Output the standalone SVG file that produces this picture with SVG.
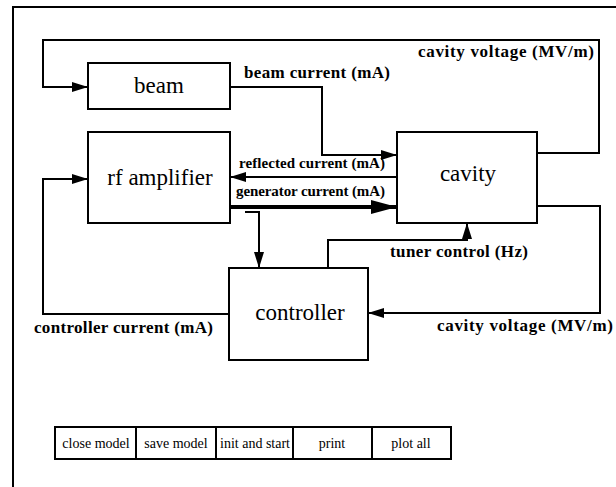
<svg xmlns="http://www.w3.org/2000/svg" width="616" height="487" viewBox="0 0 616 487">
<style>
.box{fill:#fff;stroke:#000;stroke-width:2}
.ln{fill:none;stroke:#000;stroke-width:2}
.thick{fill:none;stroke:#000;stroke-width:4}
.node{font-family:"Liberation Serif","Times New Roman",serif;font-size:23px;fill:#000;text-anchor:middle}
.lbl{font-family:"Liberation Serif","Times New Roman",serif;font-size:17px;font-weight:bold;fill:#000}
.sm{font-family:"Liberation Serif","Times New Roman",serif;font-size:15px;font-weight:bold;fill:#000}
.btn{font-family:"Liberation Serif","Times New Roman",serif;font-size:14px;fill:#000;text-anchor:middle}
</style>
<defs>
<marker id="ah" markerUnits="userSpaceOnUse" markerWidth="16" markerHeight="10" refX="16" refY="5" orient="auto">
<path d="M0,0 L16,5 L0,10 z" fill="#000"/>
</marker>
<marker id="ahb" markerUnits="userSpaceOnUse" markerWidth="26" markerHeight="14" refX="26" refY="7" orient="auto">
<path d="M0,0 L26,7 L0,14 z" fill="#000"/>
</marker>
</defs>
<rect width="616" height="487" fill="#fff"/>
<path class="ln" d="M13,487 V7 H616"/>
<g id="connectors">
<path class="ln" d="M537,153 H599 V40 H43 V87 H88" marker-end="url(#ah)"/>
<path class="ln" d="M230,87 H322 V155 H397" marker-end="url(#ah)"/>
<path class="ln" d="M397,177 H230" marker-end="url(#ah)"/>
<path class="thick" d="M230,207 H397" marker-end="url(#ahb)"/>
<path class="ln" d="M245,212 H259 V268" marker-end="url(#ah)"/>
<path class="ln" d="M328,268 V240 H467 V223" marker-end="url(#ah)"/>
<path class="ln" d="M537,206 H600 V313 H368" marker-end="url(#ah)"/>
<path class="ln" d="M229,314 H43 V179 H88" marker-end="url(#ah)"/>
<text class="lbl" x="418" y="57" textLength="176" lengthAdjust="spacing">cavity voltage (MV/m)</text>
<text class="lbl" x="244" y="78" textLength="146" lengthAdjust="spacing">beam current (mA)</text>
<text class="sm" x="239" y="168" textLength="146" lengthAdjust="spacing">reflected current (mA)</text>
<text class="sm" x="236" y="196" textLength="149" lengthAdjust="spacing">generator current (mA)</text>
<text class="lbl" x="390" y="257" textLength="138" lengthAdjust="spacing">tuner control (Hz)</text>
<text class="lbl" x="437" y="331" textLength="176" lengthAdjust="spacing">cavity voltage (MV/m)</text>
<text class="lbl" x="34" y="333" textLength="179" lengthAdjust="spacing">controller current (mA)</text>
</g>
<g id="beam"><rect class="box" x="88" y="63" width="142" height="46"/><text class="node" x="159" y="93">beam</text></g>
<g id="rf-amplifier"><rect class="box" x="88" y="132" width="142" height="91"/><text class="node" x="160" y="185">rf amplifier</text></g>
<g id="cavity"><rect class="box" x="397" y="132" width="140" height="91"/><text class="node" x="468" y="181">cavity</text></g>
<g id="controller"><rect class="box" x="229" y="268" width="139" height="92"/><text class="node" x="300" y="320">controller</text></g>
<g id="buttons">
<rect class="box" x="55" y="427" width="396" height="32"/>
<path class="ln" d="M136,427 V459 M216,427 V459 M293,427 V459 M372,427 V459"/>
<text class="btn" x="96" y="448">close model</text>
<text class="btn" x="176" y="448">save model</text>
<text class="btn" x="255" y="448">init and start</text>
<text class="btn" x="332" y="448">print</text>
<text class="btn" x="411" y="448">plot all</text>
</g>
</svg>
